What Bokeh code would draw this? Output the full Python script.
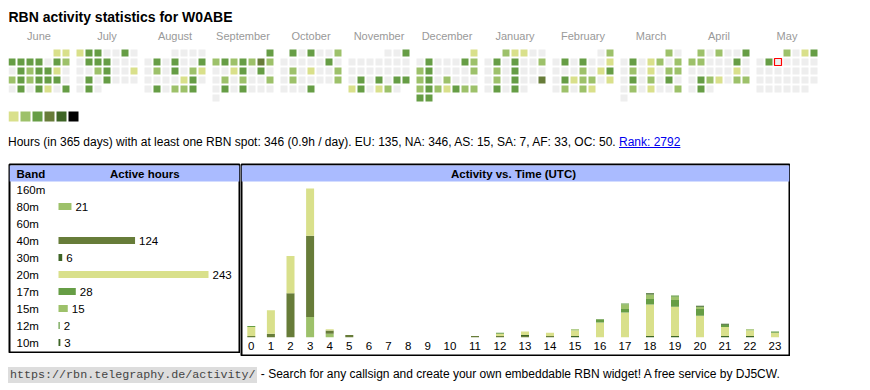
import calendar as pycal
from bokeh.plotting import figure
from bokeh.models import Range1d, ColumnDataSource, Div, Spacer
from bokeh.layouts import column, row
from bokeh.embed import file_html
from bokeh.resources import INLINE
from bokeh.core.properties import value

# ---------------- data ----------------
callsign = "W0ABE"
month_names = ["June", "July", "August", "September", "October", "November",
               "December", "January", "February", "March", "April", "May"]
month_years = [2024, 2024, 2024, 2024, 2024, 2024, 2024, 2025, 2025, 2025, 2025, 2025]
month_nums = [6, 7, 8, 9, 10, 11, 12, 1, 2, 3, 4, 5]

# activity level per day (0 = no spot, 1..6 = legend shades)
lv_jun = [1, 1, 3, 3, 3, 3, 0, 3, 2, 0, 3, 2, 3, 3, 1, 0, 2, 3, 2, 3, 3, 3, 0, 0, 3, 0, 3, 1, 0, 3]
lv_jul = [1, 3, 3, 0, 0, 3, 0, 0, 3, 3, 3, 0, 0, 0, 0, 0, 2, 3, 0, 0, 1, 0, 3, 0, 3, 0, 0, 0, 0, 3, 0]
lv_aug = [0, 0, 0, 0, 0, 3, 0, 3, 0, 0, 3, 0, 2, 0, 3, 0, 2, 1, 0, 0, 0, 0, 1, 3, 0, 0, 3, 0, 2, 2, 3]
lv_sep = [3, 2, 3, 2, 3, 2, 4, 2, 0, 0, 1, 3, 0, 3, 0, 0, 2, 0, 2, 0, 0, 2, 0, 3, 0, 3, 0, 0, 0, 0]
lv_oct = [3, 0, 3, 0, 0, 2, 0, 0, 0, 0, 0, 3, 0, 0, 2, 0, 1, 0, 0, 2, 0, 2, 0, 0, 0, 0, 2, 0, 0, 0, 3]
lv_nov = [0, 0, 3, 0, 0, 0, 0, 0, 0, 0, 0, 0, 0, 0, 0, 0, 0, 0, 3, 0, 3, 0, 3, 3, 1, 3, 0, 1, 2, 0]
lv_dec = [1, 0, 3, 0, 0, 0, 3, 2, 2, 3, 0, 0, 0, 0, 2, 2, 3, 0, 2, 0, 0, 0, 2, 3, 2, 1, 3, 2, 2, 3, 3]
lv_jan = [2, 1, 1, 0, 0, 0, 3, 0, 3, 0, 0, 2, 0, 2, 0, 3, 0, 0, 0, 0, 2, 0, 3, 0, 0, 4, 0, 3, 0, 3, 0]
lv_feb = [0, 2, 0, 3, 0, 3, 0, 0, 1, 0, 0, 0, 2, 0, 1, 3, 0, 3, 1, 2, 2, 0, 1, 0, 2, 0, 2, 1]
lv_mar = [2, 0, 0, 3, 0, 1, 2, 0, 2, 0, 2, 0, 1, 0, 2, 2, 0, 3, 0, 2, 0, 3, 0, 0, 2, 0, 1, 0, 0, 2, 0]
lv_apr = [2, 0, 2, 0, 0, 3, 2, 2, 0, 0, 0, 3, 0, 0, 0, 0, 0, 0, 1, 0, 0, 3, 2, 1, 0, 2, 2, 0, 3, 0]
lv_may = [2, 0, 1, 3, 0, 3, 0, 0, 0, 0, 0, 0, 0, 0, 0, 0, 0, 0, 0, 0, 0, 0, 0, 0, 0, 0, 0, 0, 0, 0, 0]
month_levels = [lv_jun, lv_jul, lv_aug, lv_sep, lv_oct, lv_nov,
                lv_dec, lv_jan, lv_feb, lv_mar, lv_apr, lv_may]
today_month, today_day = 11, 7

level_colors = ["#eeeeee", "#d9e08b", "#9dc16a", "#669d45", "#677c39", "#3e6526", "#000000"]

total_hours = 346
per_day = "0.9"
continents = ["EU", "NA", "AS", "SA", "AF", "OC"]
continent_hours = [135, 346, 15, 7, 33, 50]
rank = 2792

bands = ["160m", "80m", "60m", "40m", "30m", "20m", "17m", "15m", "12m", "10m"]
band_hours = [0, 21, 0, 124, 6, 243, 28, 15, 2, 3]
band_colors = ["#3e6526", "#9dc16a", "#677c39", "#677c39", "#3e6526",
               "#d9e08b", "#669d45", "#9dc16a", "#669d45", "#3e6526"]

utc_hours = list(range(24))
h160 = [0, 0, 0, 0, 0, 0, 0, 0, 0, 0, 0, 0, 0, 0, 0, 0, 0, 0, 0, 0, 0, 0, 0, 0]
h80 = [0, 0, 0, 18, 3, 0, 0, 0, 0, 0, 0, 0, 0, 0, 0, 0, 0, 0, 0, 0, 0, 0, 0, 0]
h60 = [0, 0, 0, 0, 0, 0, 0, 0, 0, 0, 0, 0, 0, 0, 0, 0, 0, 0, 0, 0, 0, 0, 0, 0]
h40 = [1, 3, 39, 72, 3, 2, 0, 0, 0, 0, 0, 1, 1, 1, 1, 0, 0, 0, 0, 0, 0, 0, 0, 0]
h30 = [0, 0, 0, 0, 0, 0, 0, 0, 0, 0, 0, 0, 0, 1, 0, 1, 0, 0, 1, 1, 0, 1, 1, 0]
h20 = [8, 21, 33, 42, 1, 0, 0, 0, 0, 0, 0, 0, 2, 3, 3, 5, 13, 22, 28, 26, 19, 8, 5, 4]
h17 = [1, 0, 0, 0, 0, 0, 0, 0, 0, 0, 0, 0, 1, 0, 0, 0, 3, 3, 5, 6, 6, 2, 0, 1]
h15 = [0, 0, 0, 0, 0, 0, 0, 0, 0, 0, 0, 0, 0, 0, 0, 1, 0, 4, 4, 3, 2, 0, 1, 0]
h12 = [0, 0, 0, 0, 0, 0, 0, 0, 0, 0, 0, 0, 0, 0, 0, 0, 0, 1, 0, 1, 0, 0, 0, 0]
h10 = [0, 0, 0, 0, 0, 0, 0, 0, 0, 0, 0, 0, 0, 0, 0, 0, 0, 0, 1, 0, 1, 1, 0, 0]
band_series = [h160, h80, h60, h40, h30, h20, h17, h15, h12, h10]

# ---------------- styles ----------------
FONT = "Liberation Sans"
HEADER_BLUE = "#aabbff"
W = 854


def make_fig(w, h, xr, yr, border, outline):
    p = figure(width=w, height=h, x_range=xr, y_range=yr, output_backend="svg",
               toolbar_location=None, x_axis_location=None, y_axis_location=None,
               min_border=border, background_fill_color="white",
               border_fill_color="white")
    p.grid.visible = False
    p.outline_line_color = "black" if outline else None
    p.outline_line_width = 2
    return p


# ---------------- calendar ----------------
CAL_H = 126
cal = make_fig(W, CAL_H, Range1d(0, W), Range1d(CAL_H, 0), 0, False)

cx, cy, cc, lc = [], [], [], []
for m, lv in enumerate(month_levels):
    first_wd, ndays = pycal.monthrange(month_years[m], month_nums[m])
    for d, level in enumerate(lv):
        idx = first_wd + d
        cx.append(68 * m + 9 * (idx % 7) + 3.5)
        cy.append(44.5 + 9 * (idx // 7))
        cc.append(level_colors[level])
        lc.append(m == today_month and d + 1 == today_day)
cal.rect(x=cx, y=cy, width=7, height=7, fill_color=cc, line_color=None)
tx = [x for x, l in zip(cx, lc) if l]
ty = [y for y, l in zip(cy, lc) if l]
cal.rect(x=tx, y=ty, width=7, height=7, fill_color=None, line_color="#ff0000", line_width=1.2)

cal.text(x=[68 * m + 30.5 for m in range(len(month_names))], y=[27] * len(month_names),
         text=month_names, text_align="center", text_baseline="middle",
         text_font=value(FONT), text_font_size="11px", text_color="#999999")
cal.text(x=[0], y=[8.5], text=["RBN activity statistics for " + callsign],
         text_baseline="middle", text_font=value(FONT), text_font_size="14px",
         text_font_style="bold", text_color="#000000")
nleg = len(level_colors) - 1
cal.rect(x=[12 * i + 5 for i in range(nleg)], y=[108] * nleg,
         width=10, height=10, fill_color=level_colors[1:], line_color=None)

# ---------------- stats line ----------------
cont_txt = ", ".join(f"{c}: {n}" for c, n in zip(continents, continent_hours))
stats = Div(width=W, height=29, margin=0, text=(
    f'<div style="font-family:\'Liberation Sans\',Arial,sans-serif;font-size:12px;'
    f'line-height:14px;padding-top:1px;color:#000;white-space:nowrap;">'
    f'Hours (in 365 days) with at least one RBN spot: {total_hours} ({per_day}h / day). '
    f'{cont_txt}. <a href="#" style="color:#0000ee;text-decoration:underline;">Rank: {rank}</a></div>'))

# ---------------- band table ----------------
BW, BH = 232, 190
k = 150 / max(band_hours)          # px per hour
x0 = 50                             # local px of zero
bx = Range1d((1 - x0) / k, (BW - 1 - x0) / k)
by = Range1d((BH - 1 - 26) / 17, (1 - 26) / 17)
bp = make_fig(BW, BH, bx, by, 1, True)
rows_i = list(range(len(bands)))
bp.quad(left=[bx.start], right=[bx.end], top=[(2 - 26) / 17], bottom=[(18 - 26) / 17],
        fill_color=HEADER_BLUE, line_color=None)
hdr_y = (10 - 26) / 17
bp.text(x=[bx.start], y=[hdr_y], x_offset=7, text=["Band"], text_baseline="middle",
        text_font=value(FONT), text_font_size="11.5px", text_font_style="bold")
bp.text(x=[(136.3 - x0) / k], y=[hdr_y], text=["Active hours"], text_align="center",
        text_baseline="middle", text_font=value(FONT), text_font_size="11.5px",
        text_font_style="bold")
bp.text(x=[bx.start] * len(bands), y=rows_i, x_offset=7, text=bands, text_baseline="middle",
        text_font=value(FONT), text_font_size="11.5px")
bp.hbar(y=rows_i, left=0, right=band_hours, height=7 / 17, fill_color=band_colors, line_color=None)
nz = [i for i, v in enumerate(band_hours) if v > 0]
bp.text(x=[band_hours[i] for i in nz], y=nz, x_offset=4, text=[str(band_hours[i]) for i in nz],
        text_baseline="middle", text_font=value(FONT), text_font_size="11.5px")

# ---------------- activity vs time ----------------
AW, AH = 550, 193
widths = [19.6 if h < 10 else 25 for h in utc_hours]
centers = []
acc = 1.0
for wd in widths:
    centers.append(acc + wd / 2)
    acc += wd
tot = [sum(s[i] for s in band_series) for i in range(len(utc_hours))]
base = 173.7
s = 148.7 / max(tot)
ax = Range1d(1, AW - 1)
ay = Range1d(-(AH - 1 - base) / s, (base - 1) / s)
ap = make_fig(AW, AH, ax, ay, 1, True)
ap.quad(left=[ax.start], right=[ax.end], top=[(base - 2) / s], bottom=[(base - 18) / s],
        fill_color=HEADER_BLUE, line_color=None)
ap.text(x=[273], y=[(base - 10) / s], text=["Activity vs. Time (UTC)"], text_align="center",
        text_baseline="middle", text_font=value(FONT), text_font_size="11.5px",
        text_font_style="bold")
data = {"x": centers}
for b, ser in zip(bands, band_series):
    data[b] = ser
src = ColumnDataSource(data)
ap.vbar_stack(bands, x="x", width=8, fill_color=band_colors, line_color=None, source=src)
ap.text(x=centers, y=[0] * len(utc_hours), y_offset=9, text=[str(h) for h in utc_hours],
        text_align="center", text_baseline="middle", text_font=value(FONT),
        text_font_size="11.5px")

# ---------------- footer ----------------
footer = Div(width=W, height=26, margin=0, text=(
    '<div style="font-family:\'Liberation Sans\',Arial,sans-serif;font-size:12px;'
    'line-height:14px;padding-top:11px;color:#000;white-space:nowrap;">'
    '<span style="font-family:\'Liberation Mono\',monospace;font-size:11.7px;background:#dddddd;'
    'color:#444;padding:1px 2px;">https://rbn.telegraphy.de/activity/</span>'
    ' - Search for any callsign and create your own embeddable RBN widget! '
    'A free service by DJ5CW.</div>'))

content = column(cal, stats, row(bp, ap), footer, spacing=0)
layout = column(Spacer(height=8, width=8),
                row(Spacer(width=8, height=8), content, spacing=0), spacing=0)
open("out.html", "w").write(file_html(layout, INLINE))
